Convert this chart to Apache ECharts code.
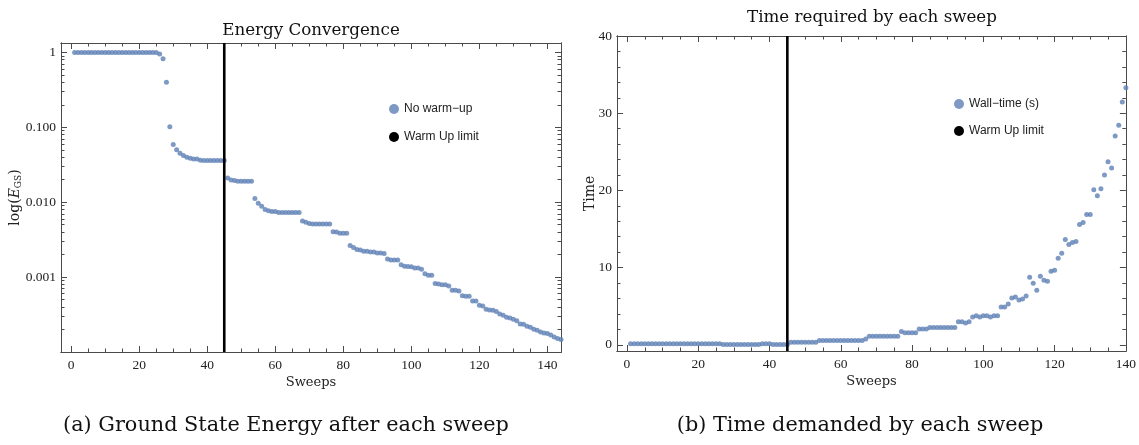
<!DOCTYPE html>
<html>
<head>
<meta charset="utf-8">
<script src="https://cdn.jsdelivr.net/npm/echarts@6/dist/echarts.min.js"></script>
<style>html,body{margin:0;padding:0;background:#fff}#c{width:1139px;height:445px}</style>
</head>
<body>
<div id="c"></div>
<script>
// ---------- data ----------
const sweepsE = [1,2,3,4,5,6,7,8,9,10,11,12,13,14,15,16,17,18,19,20,21,22,23,24,25,26,27,28,29,30,31,32,33,34,35,36,37,38,39,40,41,42,43,44,45,46,47,48,49,50,51,52,53,54,55,56,57,58,59,60,61,62,63,64,65,66,67,68,69,70,71,72,73,74,75,76,77,78,79,80,81,82,83,84,85,86,87,88,89,90,91,92,93,94,95,96,97,98,99,100,101,102,103,104,105,106,107,108,109,110,111,112,113,114,115,116,117,118,119,120,121,122,123,124,125,126,127,128,129,130,131,132,133,134,135,136,137,138,139,140,141,142,143,144];
const energy = [1.0,1.0,1.0,1.0,1.0,1.0,1.0,1.0,1.0,1.0,1.0,1.0,1.0,1.0,1.0,1.0,1.0,1.0,1.0,1.0,1.0,1.0,1.0,1.0,1.0,
  0.95,0.82,0.40,0.102,0.059,0.050,0.045,0.042,0.0398,0.0387,0.0377,0.0377,0.0363,
  0.036,0.036,0.036,0.036,0.036,0.036,0.036,
  0.021,0.0198,0.0195,0.019,0.019,0.019,0.019,0.019,
  0.0112,0.0097,0.0088,0.0080,0.0077,0.0075,0.0075,
  0.0073,0.0073,0.0073,0.0073,0.0073,0.0073,0.0073,
  0.0056,0.0054,0.0052,0.0051,0.0051,0.0051,0.0051,0.0051,0.0051,
  0.00403,0.0040,0.00386,0.00386,0.00386,
  0.00265,0.00249,0.00234,0.0023,0.00222,0.00222,0.00216,0.00216,0.0021,0.0021,0.00206,
  0.00174,0.00169,0.00169,0.00169,0.00146,0.0014,0.00138,0.00137,0.00132,0.00132,0.00127,
  0.00111,0.00106,0.00106,0.00082,0.00081,0.00079,0.00079,0.00076,
  0.000665,0.000665,0.00065,0.000565,0.000553,0.000553,0.00048,0.00048,
  0.00042,0.00041,0.000371,0.000365,0.00036,0.000346,0.000321,0.000309,0.00029,0.000284,0.000273,0.000262,
  0.000236,0.000234,0.00022,0.000214,0.000201,0.000195,0.000185,0.000179,0.000176,0.000169,0.000159,0.000152,0.000147];

const sweepsT = [1,2,3,4,5,6,7,8,9,10,11,12,13,14,15,16,17,18,19,20,21,22,23,24,25,26,27,28,29,30,31,32,33,34,35,36,37,38,39,40,41,42,43,44,45,46,47,48,49,50,51,52,53,54,55,56,57,58,59,60,61,62,63,64,65,66,67,68,69,70,71,72,73,74,75,76,77,78,79,80,81,82,83,84,85,86,87,88,89,90,91,92,93,94,95,96,97,98,99,100,101,102,103,104,105,106,107,108,109,110,111,112,113,114,115,116,117,118,119,120,121,122,123,124,125,126,127,128,129,130,131,132,133,134,135,136,137,138,139,140];
const wallTime = [0.15,0.15,0.15,0.15,0.15,0.15,0.15,0.15,0.15,0.15,0.15,0.15,0.15,0.15,0.15,0.15,0.15,0.15,0.15,0.15,0.15,0.15,0.15,0.15,0.15,0.15,
  0.03,0.03,0.03,0.03,0.03,0.03,0.03,0.03,0.03,0.03,0.03,
  0.15,0.15,0.15,
  0.03,0.03,0.03,0.03,0.03,
  0.32,0.32,0.32,0.32,0.32,0.32,0.32,0.32,
  0.57,0.57,0.57,0.57,0.57,0.57,0.57,0.57,0.57,0.57,0.57,0.57,0.57,
  0.75,
  1.12,1.12,1.12,1.12,1.12,1.12,1.12,1.12,1.12,
  1.72,1.55,1.55,1.55,1.55,
  2.06,2.06,2.06,
  2.23,2.23,2.23,2.23,2.23,2.23,2.23,2.23,
  3.0,3.0,2.83,3.0,3.6,3.78,3.6,3.78,3.78,3.6,3.78,3.78,
  4.89,4.89,5.28,6.05,6.18,5.79,5.92,6.31,8.76,7.98,7.08,8.88,8.37,8.24,9.53,9.66,
  11.2,11.85,13.65,13.0,13.26,13.39,15.58,15.84,16.87,16.87,20.09,19.31,20.2,22.0,23.7,22.9,27.04,28.45,31.46,33.3];

const warmUpLimit = 45;

const xMajorTicks = [0,20,40,60,80,100,120,140];
const xMinorTicks = [5,10,15,25,30,35,45,50,55,65,70,75,85,90,95,105,110,115,125,130,135];
const logMajorTicks = [0.0001,0.001,0.01,0.1,1];
const logMinorTicks = [0.0002,0.0003,0.0004,0.0005,0.0006,0.0007,0.0008,0.0009,
  0.002,0.003,0.004,0.005,0.006,0.007,0.008,0.009,
  0.02,0.03,0.04,0.05,0.06,0.07,0.08,0.09,
  0.2,0.3,0.4,0.5,0.6,0.7,0.8,0.9];
const logLabels = {'0':'1','-1':'0.100','-2':'0.010','-3':'0.001'};
const tMajorTicks = [0,10,20,30,40];
const tMinorTicks = [2,4,6,8,12,14,16,18,22,24,26,28,32,34,36,38];

// ---------- styling ----------
const BLUE = '#5E81B5';
const FRAME = '#4a4a4a';
const SERIF = 'DejaVu Serif';
const SANS = 'Liberation Sans';
const TICKFONT = {fontFamily: 'Liberation Serif', fontSize: 13.5, color: '#222'};

function xAx(grid, min, max, pos, ticks, len, labels, name) {
  return {
    type: 'value', gridIndex: grid, min: min, max: max, position: pos,
    axisLine: {show: true, onZero: false, lineStyle: {color: FRAME, width: 1}},
    axisTick: {show: true, inside: true, length: len, customValues: ticks, lineStyle: {color: FRAME}},
    axisLabel: labels ? Object.assign({show: true, customValues: ticks, margin: 6}, TICKFONT) : {show: false},
    splitLine: {show: false},
    name: name || '', nameLocation: 'middle', nameGap: 24, nameMoveOverlap: false,
    nameTextStyle: {fontFamily: SERIF, fontSize: 13, color: '#222'}
  };
}
function yAx(grid, type, min, max, pos, ticks, len, labels, fmt, name, nameGap, nameRich) {
  const a = {
    type: type, gridIndex: grid, min: min, max: max, position: pos,
    axisLine: {show: true, onZero: false, lineStyle: {color: FRAME, width: 1}},
    axisTick: {show: true, inside: true, length: len, customValues: ticks, lineStyle: {color: FRAME}},
    axisLabel: labels ? Object.assign({show: true, customValues: ticks, margin: 5, formatter: fmt}, TICKFONT) : {show: false},
    splitLine: {show: false},
    name: name || '', nameLocation: 'middle', nameGap: nameGap || 30, nameRotate: 90, nameMoveOverlap: false,
    nameTextStyle: {fontFamily: SERIF, fontSize: 14, color: '#222', rich: nameRich}
  };
  if (type === 'log') a.logBase = 10;
  return a;
}

const logFmt = v => { const k = String(Math.round(Math.log10(v))); return logLabels[k] !== undefined ? logLabels[k] : ''; };

const nameRich = {
  a: {fontFamily: SERIF, fontSize: 14, color: '#222'},
  i: {fontFamily: SERIF, fontSize: 14, fontStyle: 'italic', color: '#222'},
  s: {fontFamily: SERIF, fontSize: 9, color: '#222', padding: [7, 0, 0, 0]}
};

const option = {
  animation: false,
  grid: [
    {left: 61, top: 43, width: 500, height: 309},
    {left: 617, top: 36, width: 511, height: 315}
  ],
  xAxis: [
    xAx(0, -3, 144, 'bottom', xMajorTicks, 6, true, 'Sweeps'),
    xAx(0, -3, 144, 'bottom', xMinorTicks, 3.5, false),
    xAx(0, -3, 144, 'top', xMajorTicks, 6, false),
    xAx(0, -3, 144, 'top', xMinorTicks, 3.5, false),
    xAx(1, -2.8, 140, 'bottom', xMajorTicks, 6, true, 'Sweeps'),
    xAx(1, -2.8, 140, 'bottom', xMinorTicks, 3.5, false),
    xAx(1, -2.8, 140, 'top', xMajorTicks, 6, false),
    xAx(1, -2.8, 140, 'top', xMinorTicks, 3.5, false)
  ],
  yAxis: [
    yAx(0, 'log', 0.0001, 1.335, 'left', logMajorTicks, 6, true, logFmt, '{a|log(}{i|E}{s|GS}{a|)}', 38, nameRich),
    yAx(0, 'log', 0.0001, 1.335, 'left', logMinorTicks, 3.5, false),
    yAx(0, 'log', 0.0001, 1.335, 'right', logMajorTicks, 6, false),
    yAx(0, 'log', 0.0001, 1.335, 'right', logMinorTicks, 3.5, false),
    yAx(1, 'value', -0.8, 40, 'left', tMajorTicks, 6, true, v => String(v), 'Time', 20),
    yAx(1, 'value', -0.8, 40, 'left', tMinorTicks, 3.5, false),
    yAx(1, 'value', -0.8, 40, 'right', tMajorTicks, 6, false),
    yAx(1, 'value', -0.8, 40, 'right', tMinorTicks, 3.5, false)
  ],
  legend: [
    {data: ['No warm−up', 'Warm Up limit'], orient: 'vertical', left: 384, top: 98, icon: 'circle',
     itemWidth: 10, itemHeight: 10, itemGap: 16, selectedMode: false,
     textStyle: {fontFamily: SANS, fontSize: 12, color: '#222'}},
    {data: ['Wall−time (s)', 'Warm Up limit '], orient: 'vertical', left: 949, top: 93, icon: 'circle',
     itemWidth: 10, itemHeight: 10, itemGap: 15, selectedMode: false,
     textStyle: {fontFamily: SANS, fontSize: 12, color: '#222'}}
  ],
  graphic: [
    {type: 'text', x: 311, y: 31, style: {text: 'Energy Convergence', fontFamily: SERIF, fontSize: 16.7, fill: '#111', align: 'center', verticalAlign: 'middle'}},
    {type: 'text', x: 872, y: 18, style: {text: 'Time required by each sweep', fontFamily: SERIF, fontSize: 16.7, fill: '#111', align: 'center', verticalAlign: 'middle'}},
    {type: 'text', x: 286, y: 426, style: {text: '(a) Ground State Energy after each sweep', fontFamily: SERIF, fontSize: 20.8, fill: '#111', align: 'center', verticalAlign: 'middle'}},
    {type: 'text', x: 860, y: 426, style: {text: '(b) Time demanded by each sweep', fontFamily: SERIF, fontSize: 20.8, fill: '#111', align: 'center', verticalAlign: 'middle'}}
  ],
  series: [
    {type: 'scatter', name: 'No warm−up', xAxisIndex: 0, yAxisIndex: 0, symbolSize: 5,
     itemStyle: {color: BLUE}, data: sweepsE.map((x, i) => [x, energy[i]])},
    {type: 'line', name: 'Warm Up limit', xAxisIndex: 0, yAxisIndex: 0, symbol: 'none',
     itemStyle: {color: '#000'}, lineStyle: {color: '#000', width: 2.6},
     data: [[warmUpLimit, 0.0001], [warmUpLimit, 1.335]]},
    {type: 'scatter', name: 'Wall−time (s)', xAxisIndex: 4, yAxisIndex: 4, symbolSize: 5,
     itemStyle: {color: BLUE}, data: sweepsT.map((x, i) => [x, wallTime[i]])},
    {type: 'line', name: 'Warm Up limit ', xAxisIndex: 4, yAxisIndex: 4, symbol: 'none',
     itemStyle: {color: '#000'}, lineStyle: {color: '#000', width: 2.6},
     data: [[warmUpLimit, -0.8], [warmUpLimit, 40]]}
  ]
};
const chart = echarts.init(document.getElementById('c'));
chart.setOption(option);
</script>
</body>
</html>
